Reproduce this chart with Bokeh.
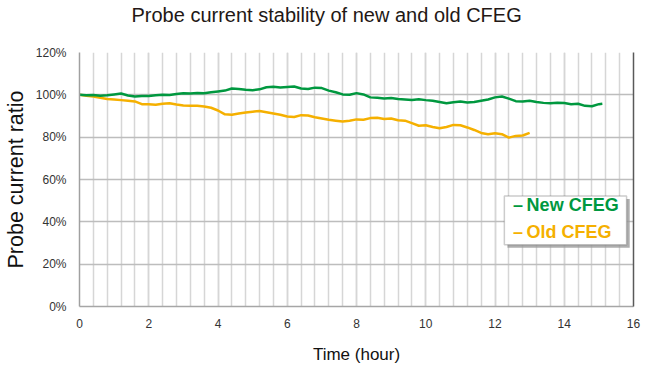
from bokeh.plotting import figure
from bokeh.models import (Range1d, SingleIntervalTicker, FixedTicker, PrintfTickFormatter,
                          LinearAxis, BoxAnnotation, Label, ColumnDataSource, Title)
from bokeh.embed import file_html
from bokeh.resources import INLINE

# ---------------- data ----------------
new_time = [0.0, 0.2, 0.4, 0.6, 0.8, 1.0, 1.2, 1.4, 1.6, 1.8, 2.0, 2.2, 2.4, 2.6, 2.8,
            3.0, 3.2, 3.4, 3.6, 3.8, 4.0, 4.2, 4.4, 4.6, 4.8, 5.0, 5.2, 5.4, 5.6, 5.8,
            6.0, 6.2, 6.4, 6.6, 6.8, 7.0, 7.2, 7.4, 7.6, 7.8, 8.0, 8.2, 8.4, 8.6, 8.8,
            9.0, 9.2, 9.4, 9.6, 9.8, 10.0, 10.2, 10.4, 10.6, 10.8, 11.0, 11.2, 11.4,
            11.6, 11.8, 12.0, 12.2, 12.4, 12.6, 12.8, 13.0, 13.2, 13.4, 13.6, 13.8,
            14.0, 14.2, 14.4, 14.6, 14.8, 15.0, 15.1]
new_ratio = [100.0, 99.8, 99.9, 99.6, 99.8, 100.2, 100.6, 99.7, 99.2, 99.5, 99.4, 99.8,
             100.0, 99.9, 100.4, 100.8, 100.6, 100.9, 100.7, 101.2, 101.6, 102.0, 103.0,
             102.8, 102.4, 102.2, 102.6, 103.6, 103.8, 103.5, 103.7, 103.9, 103.0, 102.8,
             103.4, 103.2, 102.0, 101.2, 100.2, 100.0, 100.8, 100.2, 98.8, 98.6, 98.3,
             98.5, 98.0, 97.8, 97.6, 97.9, 97.5, 97.2, 96.6, 96.0, 96.5, 96.8, 96.4,
             96.6, 97.2, 97.8, 98.8, 99.2, 98.2, 97.0, 96.8, 97.2, 96.6, 96.2, 96.0,
             96.3, 96.1, 95.6, 95.8, 94.8, 94.6, 95.6, 95.8]

old_time = [0.0, 0.2, 0.4, 0.6, 0.8, 1.0, 1.2, 1.4, 1.6, 1.8, 2.0, 2.2, 2.4, 2.6, 2.8,
            3.0, 3.2, 3.4, 3.6, 3.8, 4.0, 4.2, 4.4, 4.6, 4.8, 5.0, 5.2, 5.4, 5.6, 5.8,
            6.0, 6.2, 6.4, 6.6, 6.8, 7.0, 7.2, 7.4, 7.6, 7.8, 8.0, 8.2, 8.4, 8.6, 8.8,
            9.0, 9.2, 9.4, 9.6, 9.8, 10.0, 10.2, 10.4, 10.6, 10.8, 11.0, 11.2, 11.4,
            11.6, 11.8, 12.0, 12.2, 12.4, 12.6, 12.8, 13.0]
old_ratio = [100.0, 99.6, 99.2, 98.6, 98.0, 97.8, 97.5, 97.2, 96.9, 95.6, 95.5, 95.3,
             95.8, 96.0, 95.4, 95.0, 94.9, 94.8, 94.5, 93.9, 92.6, 90.8, 90.6, 91.2,
             91.6, 92.0, 92.4, 91.8, 91.2, 90.6, 89.8, 89.5, 90.4, 90.2, 89.4, 88.8,
             88.2, 87.8, 87.4, 87.8, 88.4, 88.2, 89.0, 89.2, 88.6, 88.8, 88.0, 87.8,
             86.6, 85.4, 85.6, 84.8, 84.2, 84.8, 85.8, 85.6, 84.6, 83.4, 82.0, 81.4,
             81.8, 81.4, 79.8, 80.6, 80.8, 82.0]

series_names = ["New CFEG", "Old CFEG"]
y_ticks = [0, 20, 40, 60, 80, 100, 120]
title_text = "Probe current stability of new and old CFEG"

# ---------------- styles ----------------
GREEN = "#00983F"
ORANGE = "#F5B000"
FONT = "Liberation Sans"

p = figure(width=650, height=366, output_backend="svg", toolbar_location=None,
           x_range=Range1d(0, 16), y_range=Range1d(0, 120), title=None,
           min_border_left=79, min_border_right=17, min_border_top=52, min_border_bottom=59)

# spacer between frame and title, then the title itself (further from the frame)
p.add_layout(Title(text="\u00a0", text_font_size="1px", standoff=23), "above")
p.add_layout(Title(text=title_text, text_font=FONT, text_font_size="20px",
                   text_font_style="normal", text_color="#231815",
                   align="left", offset=52, standoff=2), "above")

p.outline_line_color = None
p.background_fill_color = "white"
p.border_fill_color = "white"

# x axis
p.xaxis.ticker = SingleIntervalTicker(interval=2, num_minor_ticks=5)
p.xaxis.axis_label = "Time (hour)"
p.xaxis.axis_label_text_font = FONT
p.xaxis.axis_label_text_font_size = "17px"
p.xaxis.axis_label_text_font_style = "normal"
p.xaxis.axis_label_text_color = "#111111"
p.xaxis.axis_label_standoff = 14
p.xaxis.major_label_text_font = FONT
p.xaxis.major_label_text_font_size = "12px"
p.xaxis.major_label_text_color = "#333333"
p.xaxis.major_label_standoff = 6
p.xaxis.major_tick_line_color = None
p.xaxis.minor_tick_line_color = None
p.xaxis.axis_line_color = "#a6a6a6"
p.xaxis.axis_line_width = 1.5

# y axis
p.yaxis.ticker = FixedTicker(ticks=y_ticks)
p.yaxis.formatter = PrintfTickFormatter(format="%d%%")
p.yaxis.axis_label = "Probe current ratio"
p.yaxis.axis_label_text_font = FONT
p.yaxis.axis_label_text_font_size = "21.5px"
p.yaxis.axis_label_text_font_style = "normal"
p.yaxis.axis_label_text_color = "#111111"
p.yaxis.axis_label_standoff = 5
p.yaxis.major_label_text_font = FONT
p.yaxis.major_label_text_font_size = "12px"
p.yaxis.major_label_text_color = "#333333"
p.yaxis.major_label_standoff = 7
p.yaxis.major_tick_line_color = None
p.yaxis.minor_tick_line_color = None
p.yaxis.axis_line_color = "#a0a0a0"
p.yaxis.axis_line_width = 1.5

# right border
right_axis = LinearAxis(major_label_text_font_size="0px", major_tick_line_color=None,
                        minor_tick_line_color=None, axis_line_color="#595959",
                        axis_line_width=1.5, major_label_standoff=0)
right_axis.ticker = FixedTicker(ticks=[])
p.add_layout(right_axis, "right")

# grids
p.xgrid.grid_line_color = "#d6d6d6"
p.xgrid.grid_line_width = 1.5
p.xgrid.minor_grid_line_color = "#d6d6d6"
p.xgrid.minor_grid_line_width = 1.5
p.ygrid.grid_line_color = "#bdbdbd"
p.ygrid.grid_line_width = 1.5

# lines
src_new = ColumnDataSource(dict(x=new_time, y=new_ratio))
src_old = ColumnDataSource(dict(x=old_time, y=old_ratio))
p.line("x", "y", source=src_old, line_color=ORANGE, line_width=2.5)
p.line("x", "y", source=src_new, line_color=GREEN, line_width=2.5)

# legend box (layout in data units of the fixed ranges)
LEG_L, LEG_R, LEG_B, LEG_T = 12.27, 15.8, 29.2, 52.2
SH_X, SH_Y = 0.09, 1.4
p.add_layout(BoxAnnotation(left=LEG_L + SH_X, right=LEG_R + SH_X, bottom=LEG_B - SH_Y,
                           top=LEG_T - SH_Y, fill_color="#9a9a9a", fill_alpha=0.8,
                           line_color=None))
p.add_layout(BoxAnnotation(left=LEG_L, right=LEG_R, bottom=LEG_B, top=LEG_T,
                           fill_color="white", fill_alpha=1.0, line_color="#555555",
                           line_width=1.5))
for name, color, yy in [(series_names[0], GREEN, 48.0), (series_names[1], ORANGE, 35.0)]:
    p.add_layout(Label(x=12.52, y=yy, text="\u2013\u2009" + name, text_color=color,
                       text_font=FONT, text_font_size="18px", text_font_style="bold",
                       text_baseline="middle", text_align="left"))

open("out.html", "w").write(file_html(p, INLINE))
